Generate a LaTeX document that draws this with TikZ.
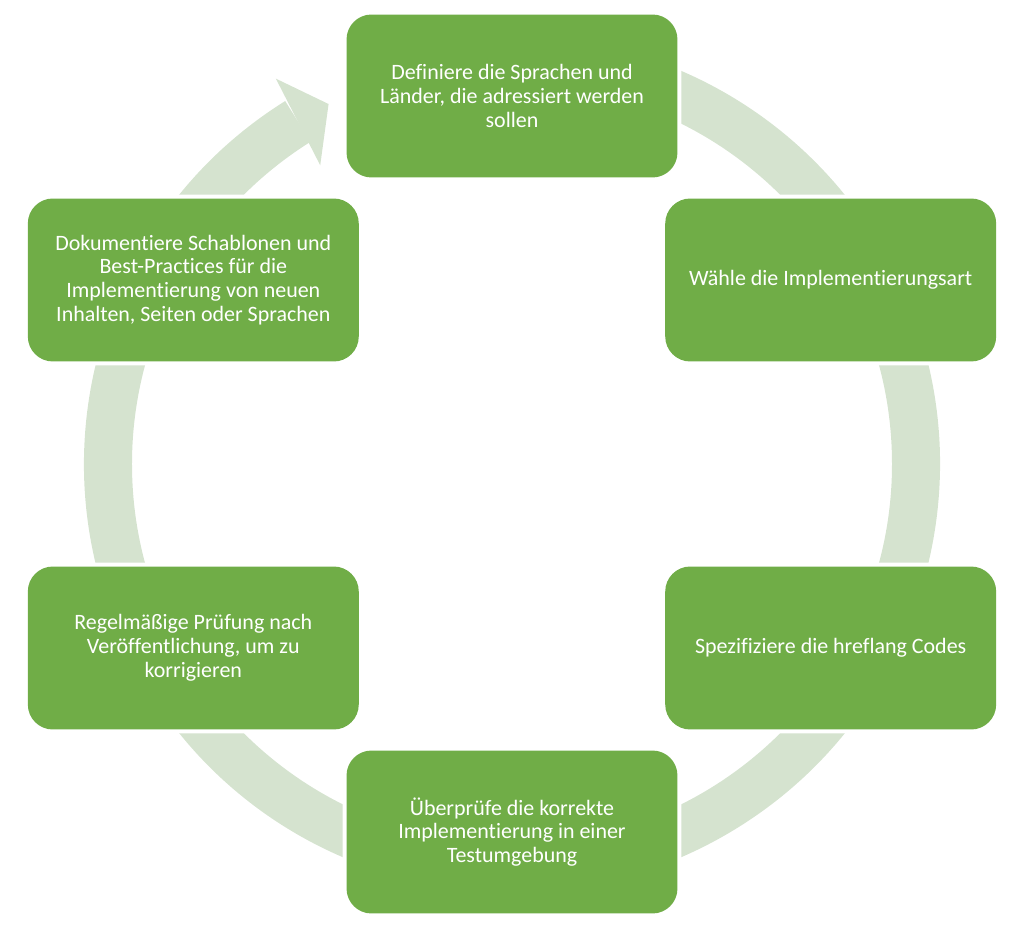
\documentclass[tikz,border=0pt]{standalone}
\usepackage{fontspec}
\setmainfont{Carlito}[Ligatures=NoCommon]
\usepackage{tikz}
\definecolor{boxgreen}{HTML}{70AD47}
\definecolor{ringgreen}{HTML}{D5E3CF}

\begin{document}
\begin{tikzpicture}[x=0.02cm,y=0.02cm,every node/.style={font=\fontsize{12.5}{13.6}\selectfont}]
  % Styles
  \tikzset{stepbox/.style={fill=boxgreen,text=white,align=center,rounded corners=0.5cm,
                           minimum width=6.62cm,minimum height=3.26cm,inner sep=0pt,
                           preaction={draw=white,line width=0.16cm}},
           ring/.style={fill=ringgreen}}
  \useasboundingbox (-512,-469) rectangle (518,464);

  % Cycle band (runs clockwise from the last step round to the first)
  \fill[ring] (122:428) arc[start angle=122,end angle=450,radius=428]
        -- (450:380) arc[start angle=450,end angle=122,radius=380] -- cycle;
  % Arrow head in front of the first step
  \fill[ring] (121.5:452) -- (117:404) -- (122.7:355) -- cycle;

  % Steps (hexagon round the centre)
  \node[stepbox] (sprachen) at (90:368) {Definiere die Sprachen und\\Länder, die adressiert werden\\sollen};
  \node[stepbox] (art) at (30:368) {Wähle die Implementierungsart};
  \node[stepbox] (codes) at (-30:368) {Spezifiziere die hreflang Codes};
  \node[stepbox] (test) at (-90:368) {Überprüfe die korrekte\\Implementierung in einer\\Testumgebung};
  \node[stepbox] (pruefung) at (-150:368) {Regelmäßige Prüfung nach\\Veröffentlichung, um zu\\korrigieren};
  \node[stepbox] (doku) at (150:368) {Dokumentiere Schablonen und\\Best-Practices für die\\Implementierung von neuen\\Inhalten, Seiten oder Sprachen};
\end{tikzpicture}
\end{document}
